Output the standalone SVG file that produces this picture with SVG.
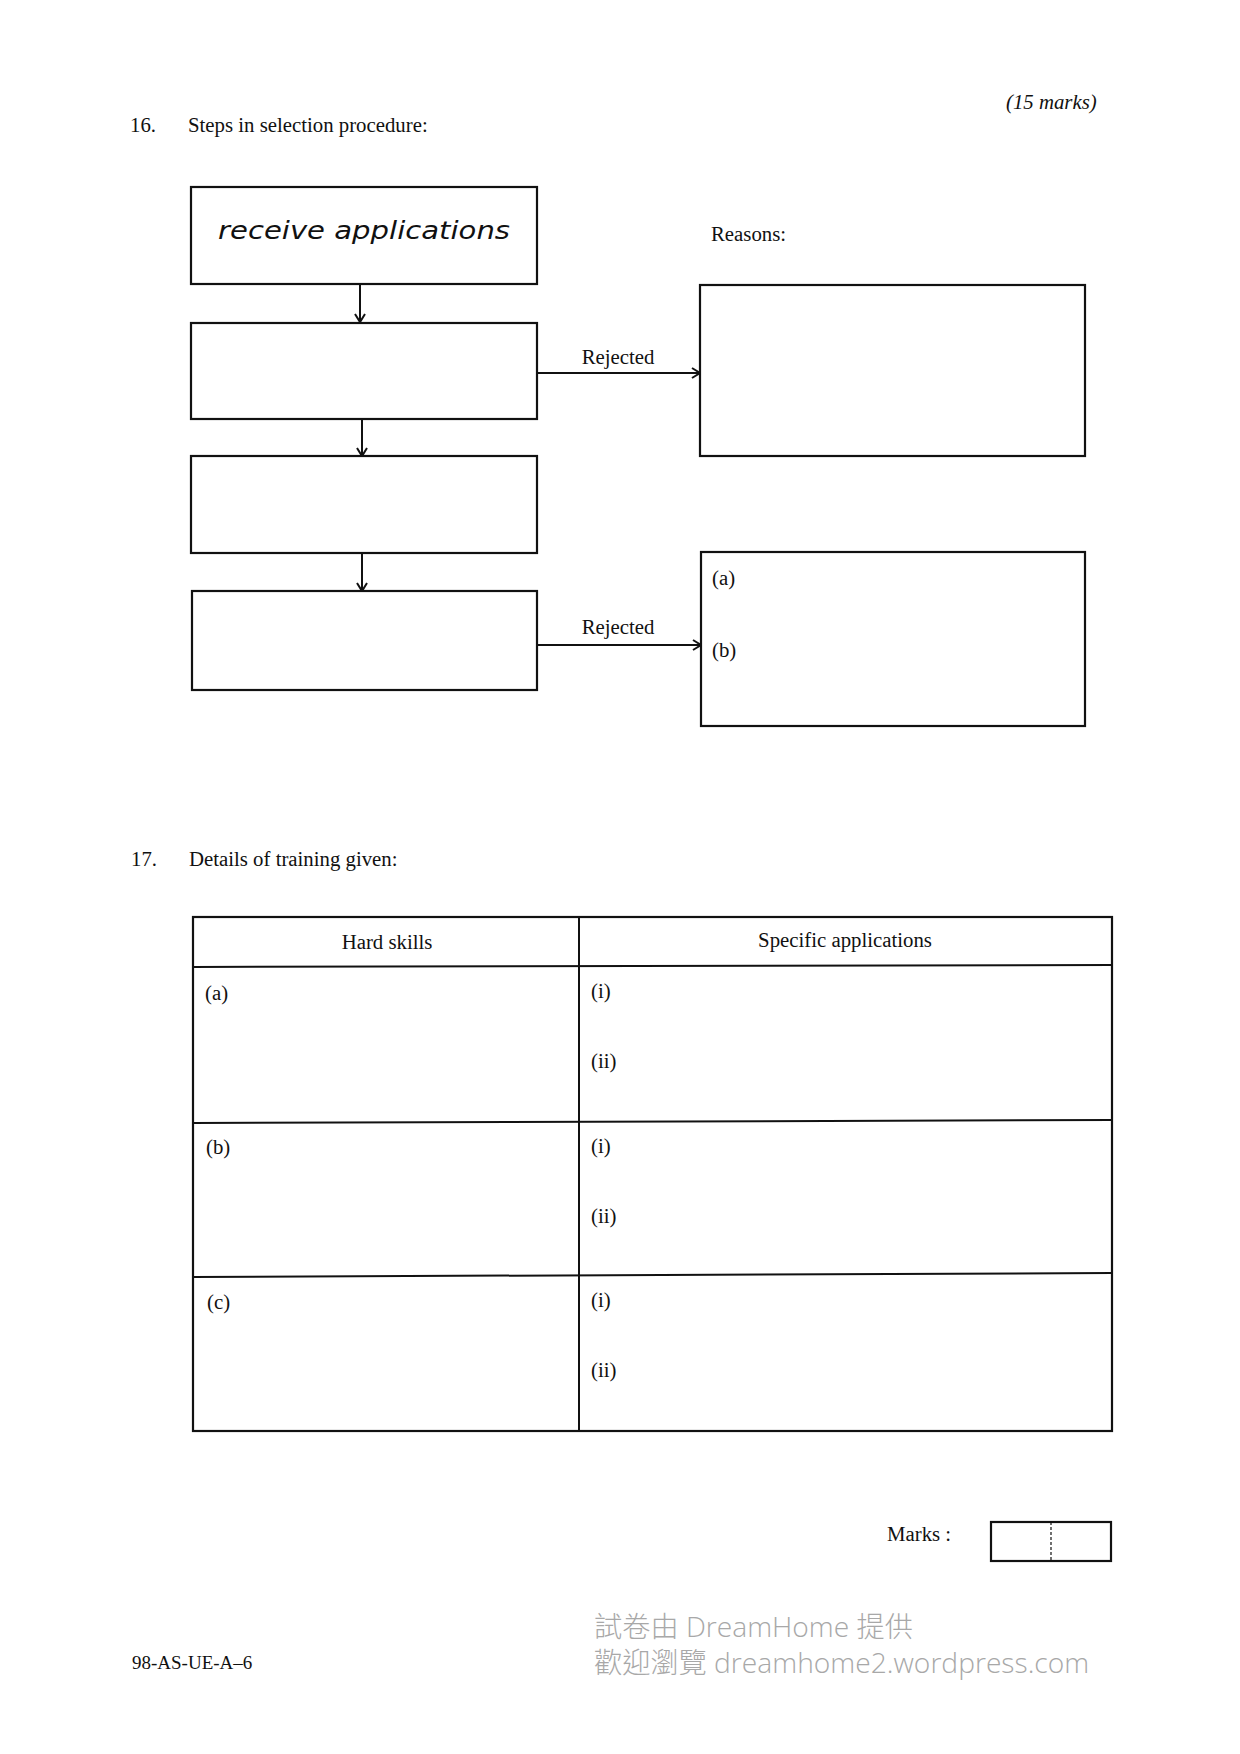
<svg xmlns="http://www.w3.org/2000/svg" width="1240" height="1754" viewBox="0 0 1240 1754">
<style>
.t{font-family:"Liberation Serif","Times New Roman",serif;font-size:20.8px;fill:#111}
.box{fill:#fff;stroke:#111;stroke-width:2.2}
.ln{stroke:#111;stroke-width:2;fill:none}
.wm{font-family:"Open Sans","Noto Sans CJK TC",sans-serif;font-size:28.2px;fill:#a8a8a8;font-weight:300}
.hw{font-family:"DejaVu Sans",sans-serif;font-style:italic;font-size:25px;fill:#111}
</style>
<defs>
<marker id="ah" markerWidth="12" markerHeight="12" refX="10" refY="6" orient="auto" markerUnits="userSpaceOnUse">
<path d="M2,1 L10,6 L2,11" fill="none" stroke="#111" stroke-width="2"/>
</marker>
</defs>
<rect width="1240" height="1754" fill="#fff"/>
<text class="t" x="130" y="132">16.</text>
<text class="t" x="188" y="132">Steps in selection procedure:</text>
<text class="t" x="1006" y="109" font-style="italic">(15 marks)</text>

<g id="connectors">
<line class="ln" x1="360" y1="284" x2="360" y2="322" marker-end="url(#ah)"/>
<line class="ln" x1="362" y1="419" x2="362" y2="456" marker-end="url(#ah)"/>
<line class="ln" x1="362" y1="553" x2="362" y2="591" marker-end="url(#ah)"/>
<line class="ln" x1="537" y1="373" x2="700" y2="373" marker-end="url(#ah)"/>
<text class="t" x="618" y="364" text-anchor="middle">Rejected</text>
<line class="ln" x1="537" y1="645" x2="701" y2="645" marker-end="url(#ah)"/>
<text class="t" x="618" y="634" text-anchor="middle">Rejected</text>
</g>

<g id="step1">
<rect class="box" x="191" y="187" width="346" height="97"/>
<text class="hw" x="218" y="239" textLength="292" lengthAdjust="spacingAndGlyphs">receive applications</text>
</g>
<g id="step2"><rect class="box" x="191" y="323" width="346" height="96"/></g>
<g id="step3"><rect class="box" x="191" y="456" width="346" height="97"/></g>
<g id="step4"><rect class="box" x="192" y="591" width="345" height="99"/></g>

<text class="t" x="711" y="241">Reasons:</text>
<g id="reasons1"><rect class="box" x="700" y="285" width="385" height="171"/></g>
<g id="reasons2">
<rect class="box" x="701" y="552" width="384" height="174"/>
<text class="t" x="712" y="585">(a)</text>
<text class="t" x="712" y="657">(b)</text>
</g>

<text class="t" x="131" y="866">17.</text>
<text class="t" x="189" y="866">Details of training given:</text>

<g id="table">
<rect class="box" x="193" y="917" width="919" height="514" fill="none"/>
<line class="ln" x1="579" y1="917" x2="579" y2="1431"/>
<line class="ln" x1="193" y1="967" x2="1112" y2="965" stroke-width="2.4"/>
<line class="ln" x1="193" y1="1123" x2="1112" y2="1120" stroke-width="2.4"/>
<line class="ln" x1="193" y1="1277" x2="1112" y2="1273" stroke-width="2.4"/>
<text class="t" x="387" y="949" text-anchor="middle">Hard skills</text>
<text class="t" x="845" y="947" text-anchor="middle">Specific applications</text>
<text class="t" x="205" y="1000">(a)</text>
<text class="t" x="591" y="998">(i)</text>
<text class="t" x="591" y="1068">(ii)</text>
<text class="t" x="206" y="1154">(b)</text>
<text class="t" x="591" y="1153">(i)</text>
<text class="t" x="591" y="1223">(ii)</text>
<text class="t" x="207" y="1309">(c)</text>
<text class="t" x="591" y="1307">(i)</text>
<text class="t" x="591" y="1377">(ii)</text>
</g>

<g id="marks">
<text class="t" x="887" y="1541">Marks :</text>
<rect class="box" x="991" y="1522" width="120" height="39"/>
<line x1="1051" y1="1522" x2="1051" y2="1561" stroke="#111" stroke-width="1.2" stroke-dasharray="3,2"/>
</g>

<text class="t" x="132" y="1669" style="font-size:19px">98-AS-UE-A–6</text>
<text class="wm" x="594" y="1637">試卷由 DreamHome 提供</text>
<text class="wm" x="594" y="1673">歡迎瀏覽 dreamhome2.wordpress.com</text>
</svg>
